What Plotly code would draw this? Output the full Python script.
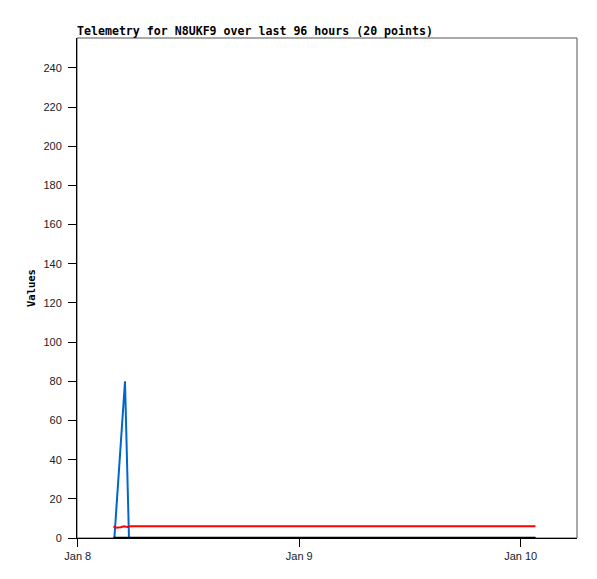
import plotly.graph_objects as go

# telemetry series (times)
red_times = ["2024-01-08 03:52", "2024-01-08 04:05", "2024-01-08 04:40", "2024-01-08 05:00",
             "2024-01-08 05:30", "2024-01-08 05:40", "2024-01-10 01:36"]
red_values = [6, 5.2, 5.5, 6, 5.5, 6, 6]

blue_times = ["2024-01-08 03:58", "2024-01-08 05:07", "2024-01-08 05:33", "2024-01-10 01:36"]
blue_values = [0, 80, 0, 0]

black_times = ["2024-01-08 03:52", "2024-01-10 01:36"]
black_values = [0, 0]

title_text = "Telemetry for N8UKF9 over last 96 hours (20 points)"

# page body has an 8px margin, so the figure is a bit smaller than the window
W, H = 589, 571

fig = go.Figure()
fig.add_trace(go.Scatter(x=blue_times, y=blue_values, mode="lines",
                         line=dict(color="#0066cc", width=2), showlegend=False))
fig.add_trace(go.Scatter(x=red_times, y=red_values, mode="lines",
                         line=dict(color="#ff0000", width=2), showlegend=False))
fig.add_trace(go.Scatter(x=black_times, y=black_values, mode="lines",
                         line=dict(color="#000000", width=2.5), showlegend=False))

# gray frame on top/right
fig.add_shape(type="rect", xref="paper", yref="paper", x0=0, x1=1, y0=0, y1=1,
              line=dict(color="#555555", width=1), layer="below")

fig.update_layout(
    width=W, height=H,
    margin=dict(l=69, r=20, t=30, b=41),
    paper_bgcolor="white", plot_bgcolor="white",
    title=dict(text=title_text, x=69/W, xanchor="left", y=(H-23)/H, yanchor="middle",
               font=dict(family="DejaVu Sans Mono", size=11.6, color="black", weight="bold")),
    xaxis=dict(
        type="date", automargin=False,
        range=["2024-01-07 23:55", "2024-01-10 06:06"],
        dtick=86400000, tick0="2024-01-08", tickformat="%b %-d",
        ticks="outside", ticklen=8, tickcolor="black", tickwidth=1,
        showline=True, linecolor="black", linewidth=1,
        showgrid=False, zeroline=False,
        tickfont=dict(family="Liberation Sans", size=11, color="#222"),
    ),
    yaxis=dict(
        automargin=False,
        range=[0, 255.3],
        dtick=20, tick0=0,
        ticks="outside", ticklen=8, tickcolor="black", tickwidth=1,
        showline=True, linecolor="black", linewidth=1,
        showgrid=False, zeroline=False, ticklabelstandoff=4,
        tickfont=dict(family="Liberation Sans", size=11, color="#222"),
        title=dict(text="Values", standoff=5,
                   font=dict(family="DejaVu Sans Mono", size=10.5, color="black", weight="bold")),
    ),
)

fig.write_html("out.html")
